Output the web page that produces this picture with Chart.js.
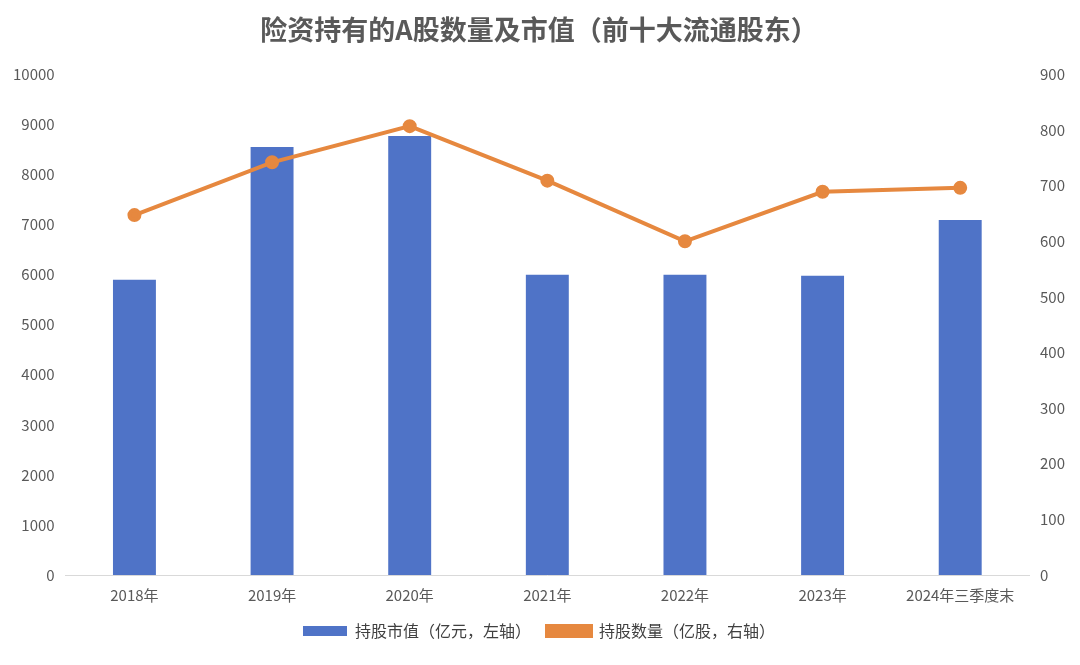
<!DOCTYPE html>
<html><head><meta charset="utf-8">
<script src="https://cdn.jsdelivr.net/npm/chart.js@4"></script>
<style>html,body{margin:0;background:#fff}#wrap{width:1080px;height:665px}</style>
</head><body><div id="wrap"><canvas id="c"></canvas></div>
<script>
const years = ["2018年", "2019年", "2020年", "2021年", "2022年", "2023年", "2024年三季度末"];
const marketValue = [5900, 8550, 8770, 6000, 6000, 5980, 7090];
const shareCount = [647, 742, 807, 709, 600, 689, 696];

Chart.defaults.font.family = "'Noto Sans CJK SC', 'Noto Sans', sans-serif";
Chart.defaults.color = "#595959";

new Chart(document.getElementById("c"), {
  data: {
    labels: years,
    datasets: [
      {
        type: "line", label: "持股数量（亿股，右轴）", data: shareCount, yAxisID: "y1",
        borderColor: "#E6883F", backgroundColor: "#E6883F", borderWidth: 4,
        pointRadius: 5, pointBackgroundColor: "#E6883F", order: 0
      },
      {
        type: "bar", label: "持股市值（亿元，左轴）", data: marketValue, yAxisID: "y",
        backgroundColor: "#4F73C7", barPercentage: 0.6, categoryPercentage: 0.52, order: 1
      }
    ]
  },
  options: {
    responsive: true, maintainAspectRatio: false, animation: false,
    layout: { padding: { left: 10, right: 12, top: 4, bottom: 16 } },
    plugins: {
      title: { display: true, text: "险资持有的A股数量及市值（前十大流通股东）",
        font: { size: 27, weight: "bold" }, color: "#595959", padding: { top: 10, bottom: 28 } },
      legend: { position: "bottom", reverse: true,
        labels: { font: { size: 16 }, color: "#404040", boxWidth: 44, boxHeight: 10, padding: 16 } }
    },
    scales: {
      x: { grid: { display: false }, border: { color: "#d9d9d9" }, ticks: { font: { size: 15 } } },
      y: { min: 0, max: 10000, ticks: { stepSize: 1000, font: { size: 15 }, callback: v => String(v) },
        grid: { display: false }, border: { display: false } },
      y1: { position: "right", min: 0, max: 900, ticks: { stepSize: 100, font: { size: 15 }, callback: v => String(v) },
        grid: { display: false }, border: { display: false } }
    }
  }
});
</script></body></html>
